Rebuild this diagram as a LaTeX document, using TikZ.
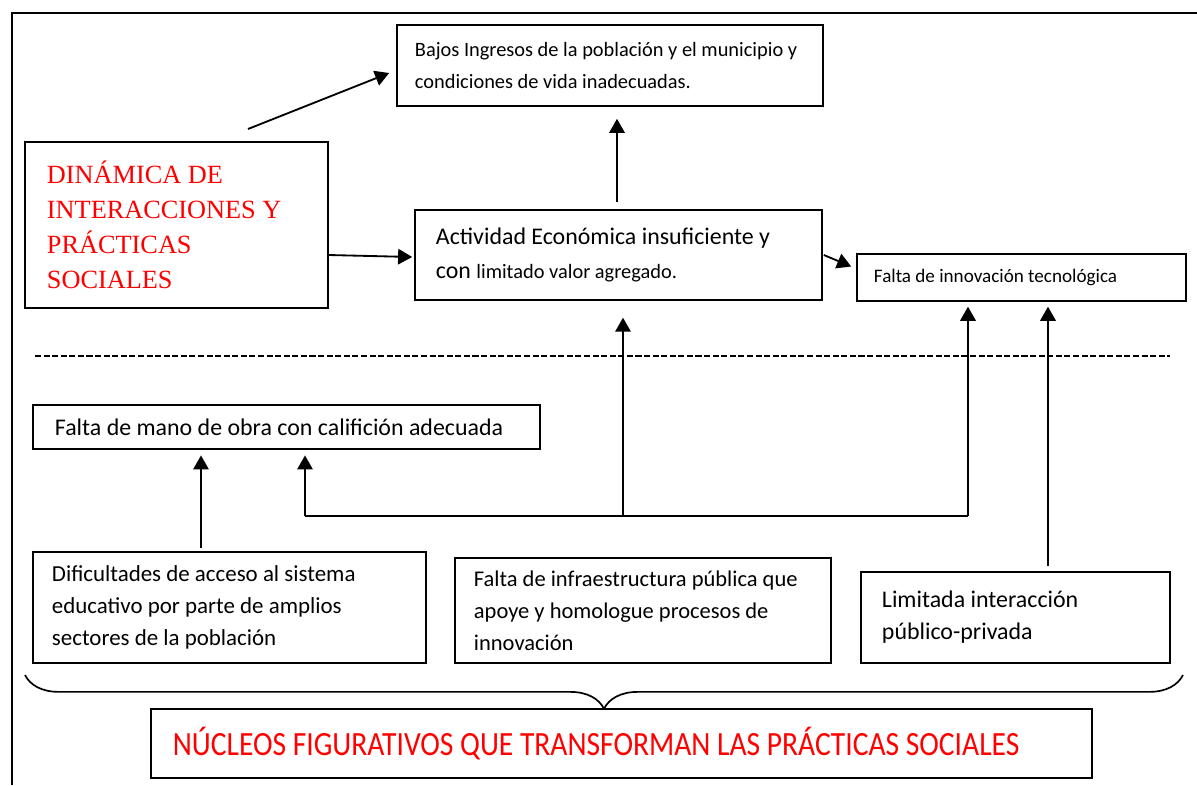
\documentclass[tikz,border=0pt]{standalone}
\usepackage{fontspec}
\usepackage{graphicx}
\setmainfont{Carlito}
\newfontfamily\timesfont{Liberation Serif}
\usetikzlibrary{arrows.meta,calc,decorations.pathreplacing}

\tikzset{
  caja/.style={draw, line width=1.1pt, align=flush left, inner ysep=0pt},
  flecha/.style={line width=1.3pt, -{Triangle[width=11pt,length=10pt]}},
}

\begin{document}
\begin{tikzpicture}[x=0.025cm, y=-0.025cm]
  \useasboundingbox (0,0) rectangle (1197,785);
  \draw[line width=1.2pt] (12,785) -- (12,13) -- (1197,13);

  \node (bajos)[caja, minimum width=10.65cm, minimum height=2.025cm, inner xsep=0.45cm, text width=9.75cm, font=\fontsize{14.5}{22.5}\selectfont] at (610,65.5) {Bajos Ingresos de la población y el municipio y\\condiciones de vida inadecuadas.};
  \node (dinamica)[caja, minimum width=7.575cm, minimum height=4.15cm, inner xsep=0.55cm, text width=6.475cm, text=red, font=\timesfont\fontsize{18.7}{24.8}\selectfont] at (176.5,225) {DINÁMICA DE\\INTERACCIONES Y\\PRÁCTICAS\\SOCIALES};
  \node (actividad)[caja, minimum width=10.175cm, minimum height=2.25cm, inner xsep=0.525cm, text width=9.125cm, font=\fontsize{17}{24}\selectfont] at (618.5,255) {Actividad Económica insuficiente y\\con {\fontsize{14.5}{24}\selectfont limitado valor agregado.}};
  \node (innov)[caja, minimum width=8.225cm, minimum height=1.175cm, inner xsep=0.425cm, text width=7.375cm, font=\fontsize{13.6}{20}\selectfont] at (1021.5,277.5) {Falta de innovación tecnológica};
  \node (mano)[caja, minimum width=12.675cm, minimum height=1.1cm, inner xsep=0.55cm, text width=11.575cm, font=\fontsize{17}{22}\selectfont] at (286.5,427) {Falta de mano de obra con califición adecuada};
  \node (dific)[caja, minimum width=9.825cm, minimum height=2.775cm, inner xsep=0.475cm, text width=8.875cm, font=\fontsize{16.3}{22.7}\selectfont] at (229.5,607.5) {Dificultades de acceso al sistema\\educativo por parte de amplios\\sectores de la población};
  \node (infra)[caja, minimum width=9.4cm, minimum height=2.625cm, inner xsep=0.475cm, text width=8.45cm, font=\fontsize{16}{22.7}\selectfont] at (643,610.5) {Falta de infraestructura pública que\\apoye y homologue procesos de\\innovación};
  \node (limit)[caja, minimum width=7.725cm, minimum height=2.275cm, inner xsep=0.525cm, text width=6.675cm, font=\fontsize{17}{22.7}\selectfont] at (1015.5,617.5) {Limitada interacción\\público-privada};
  \node (nucleos)[caja, minimum width=23.525cm, minimum height=1.725cm, inner xsep=0.55cm, text width=22.425cm, text=red, font=\fontsize{21}{24}\selectfont] at (621.5,743.5) {\scalebox{1}[1.15]{NÚCLEOS FIGURATIVOS QUE TRANSFORMAN LAS PRÁCTICAS SOCIALES}};

  % flechas de arriba
  \coordinate (c0) at (248,129);
  \draw[flecha] (c0) -- ($(bajos.west)+(-7,7.5)$);
  \draw[flecha] ($(dinamica.east)+(0,30)$) -- ($(actividad.west)+(-2,2)$);
  \draw[flecha] ($(actividad.north)+(-1.5,-7)$) -- ($(bajos.south)+(7,12)$);
  \draw[flecha] ($(actividad.east)+(1,0)$) -- ($(innov.west)+(-5,-11)$);

  \draw[line width=1pt, dash pattern=on 4.3pt off 1.8pt] (35,356) -- (1170,356);

  % lazo de abajo
  \coordinate (j1) at (305,516);
  \coordinate (j2) at (623,516);
  \coordinate (j3) at (968,516);
  \draw[line width=1.3pt] (j1) -- (j3);
  \draw[flecha, shorten >=4pt] (j1) -- (j1 |- mano.south);
  \draw[flecha, shorten >=12pt] (j2) -- (j2 |- actividad.south);
  \draw[flecha, shorten >=3.5pt] (j3) -- (j3 |- innov.south);
  \coordinate (d1) at ($(dific.north)+(-28.5,-3)$);
  \draw[flecha, shorten >=4pt] (d1) -- (d1 |- mano.south);
  \coordinate (l1) at ($(limit.north)+(32.5,-5)$);
  \draw[flecha, shorten >=3.5pt] (l1) -- (l1 |- innov.south);

  \draw[line width=1.2pt, decorate, decoration={brace, mirror, amplitude=24pt}] (25,675) -- (1183,675);
\end{tikzpicture}
\end{document}
